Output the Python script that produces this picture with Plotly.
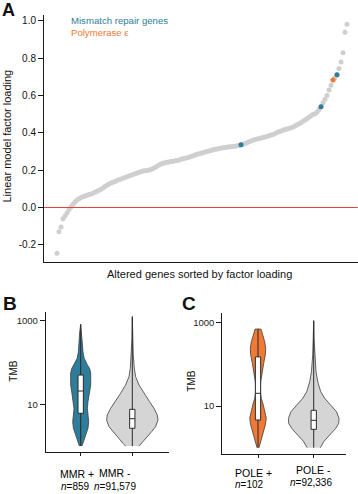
import plotly.graph_objects as go

# ---------------- DATA ----------------
# Panel A: factor loadings of altered genes, sorted
loadings = [
    -0.245, -0.13, -0.105, -0.06, -0.045, -0.03, -0.012, 0.002, 0.018, 0.03,
    0.04, 0.047, 0.053, 0.058, 0.062, 0.066, 0.07, 0.073, 0.077, 0.082,
    0.087, 0.092, 0.098, 0.105, 0.112, 0.119, 0.126, 0.131, 0.136, 0.14,
    0.145, 0.149, 0.153, 0.157, 0.161, 0.165, 0.169, 0.173, 0.177, 0.181,
    0.185, 0.189, 0.192, 0.195, 0.197, 0.199, 0.201, 0.204, 0.209, 0.215,
    0.221, 0.228, 0.233, 0.237, 0.24, 0.242, 0.244, 0.246, 0.248, 0.25,
    0.252, 0.255, 0.258, 0.261, 0.264, 0.267, 0.27, 0.273, 0.277, 0.281,
    0.285, 0.288, 0.291, 0.294, 0.297, 0.3, 0.303, 0.306, 0.309, 0.312,
    0.314, 0.316, 0.318, 0.32, 0.322, 0.323, 0.325, 0.326, 0.327, 0.329,
    0.331, 0.333, 0.336, 0.339, 0.343, 0.347, 0.352, 0.357, 0.361, 0.364,
    0.367, 0.37, 0.372, 0.375, 0.378, 0.381, 0.384, 0.388, 0.392, 0.397,
    0.402, 0.406, 0.41, 0.414, 0.418, 0.421, 0.424, 0.428, 0.432, 0.437,
    0.443, 0.449, 0.455, 0.462, 0.469, 0.476, 0.484, 0.492, 0.498, 0.503,
    0.51, 0.525, 0.54, 0.562, 0.58, 0.6, 0.63, 0.655, 0.684, 0.695,
    0.712, 0.745, 0.78, 0.83, 0.94, 0.982,
]
mmr_gene_idx = [92, 132, 140]
pole_gene_idx = [138]
legend_labels = ["Mismatch repair genes", "Polymerase ε"]

# Panels B / C: violin outlines (log10 TMB level, half width in category units)
mmr_pos_log = [0.0, 0.106, 0.226, 0.426, 0.584, 0.744, 0.90, 1.06, 1.30, 1.46, 1.75, 1.85, 1.95, 2.1, 2.25, 2.419, 2.738, 2.913]
mmr_pos_w = [0.025, 0.052, 0.091, 0.141, 0.155, 0.141, 0.130, 0.141, 0.174, 0.194, 0.194, 0.175, 0.126, 0.068, 0.045, 0.033, 0.019, 0.0]
mmr_neg_log = [0.0, 0.067, 0.187, 0.345, 0.465, 0.624, 0.744, 0.904, 1.063, 1.263, 1.462, 1.661, 1.861, 2.18, 2.579, 3.096]
mmr_neg_w = [0.13, 0.18, 0.258, 0.374, 0.452, 0.498, 0.484, 0.42, 0.335, 0.227, 0.13, 0.064, 0.039, 0.019, 0.006, 0.0]
pole_pos_log = [0.0, 0.144, 0.344, 0.544, 0.704, 0.864, 1.024, 1.184, 1.344, 1.584, 1.824, 2.025, 2.224, 2.385, 2.545, 2.705, 2.845, 2.85]
pole_pos_w = [0.018, 0.048, 0.09, 0.131, 0.149, 0.126, 0.095, 0.059, 0.041, 0.048, 0.072, 0.102, 0.131, 0.138, 0.12, 0.084, 0.054, 0.0]
pole_neg_log = [0.0, 0.144, 0.304, 0.464, 0.584, 0.704, 0.864, 1.024, 1.184, 1.344, 1.584, 1.824, 2.224, 2.625, 3.049]
pole_neg_w = [0.12, 0.18, 0.287, 0.395, 0.449, 0.454, 0.408, 0.305, 0.197, 0.126, 0.072, 0.041, 0.018, 0.006, 0.0]

# box statistics (log10 TMB): min, q1, median, q3, max
mmr_box = {"pos": [0.0, 0.785, 1.318, 1.70, 2.913], "neg": [0.0, 0.426, 0.656, 0.88, 3.096]}
pole_box = {"pos": [0.0, 0.664, 1.305, 2.18, 2.85], "neg": [0.0, 0.44, 0.657, 0.897, 3.049]}

mmr_labels = ["MMR +", "MMR -"]
mmr_n = ["859", "91,579"]
pole_labels = ["POLE +", "POLE -"]
pole_n = ["102", "92,336"]
tmb_ticks = [10, 1000]
a_ticks = [-0.2, 0.0, 0.2, 0.4, 0.6, 0.8, 1.0]

# ---------------- STYLE ----------------
W, H = 358, 494
BLUE = "#2E7D9B"
ORANGE = "#EE7A35"
GREY_PT = "#CFCFCF"
GREY_V = "#D5D5D5"
FONT = "Liberation Sans, Arial, sans-serif"


def px(x):
    return x / W


def py(y):
    return 1 - y / H


fig = go.Figure()

# ---- Panel A ----
idx = list(range(len(loadings)))
fig.add_trace(go.Scatter(x=idx, y=loadings, mode="markers",
                         marker=dict(size=5, color=GREY_PT), xaxis="x", yaxis="y",
                         showlegend=False, hoverinfo="skip"))
fig.add_trace(go.Scatter(x=mmr_gene_idx, y=[loadings[i] for i in mmr_gene_idx], mode="markers",
                         marker=dict(size=5, color=BLUE), xaxis="x", yaxis="y", showlegend=False))
fig.add_trace(go.Scatter(x=pole_gene_idx, y=[loadings[i] for i in pole_gene_idx], mode="markers",
                         marker=dict(size=5, color=ORANGE), xaxis="x", yaxis="y", showlegend=False))
fig.add_shape(type="line", xref="x domain", yref="y", x0=0, x1=1, y0=0, y1=0,
              line=dict(color="#E8413C", width=1))


def violin(xc, logs, widths, color, xa, ya):
    xs = [xc + w for w in widths] + [xc - w for w in reversed(widths)]
    ys = [10 ** l for l in logs] + [10 ** l for l in reversed(logs)]
    fig.add_trace(go.Scatter(x=xs, y=ys, mode="lines", fill="toself", fillcolor=color,
                             line=dict(color="#3C3C3C", width=0.8), xaxis=xa, yaxis=ya,
                             showlegend=False, hoverinfo="skip"))


def box(xc, stats, xa, ya, width):
    mn, q1, med, q3, mx = [10 ** s for s in stats]
    fig.add_trace(go.Box(x=[xc], q1=[q1], median=[med], q3=[q3], lowerfence=[mn], upperfence=[mx],
                         orientation="v", width=width, fillcolor="white",
                         line=dict(color="#2A2A2A", width=1),
                         whiskerwidth=0, xaxis=xa, yaxis=ya, showlegend=False, hoverinfo="skip"))


violin(0, mmr_pos_log, mmr_pos_w, BLUE, "x2", "y2")
violin(1, mmr_neg_log, mmr_neg_w, GREY_V, "x2", "y2")
box(0, mmr_box["pos"], "x4", "y4", 0.103)
box(1, mmr_box["neg"], "x4", "y4", 0.103)

violin(0, pole_pos_log, pole_pos_w, ORANGE, "x3", "y3")
violin(1, pole_neg_log, pole_neg_w, GREY_V, "x3", "y3")
box(0, pole_box["pos"], "x5", "y5", 0.095)
box(1, pole_box["neg"], "x5", "y5", 0.095)

axis_common = dict(showgrid=False, zeroline=False, showline=True, linecolor="#1A1A1A", linewidth=1,
                   tickfont=dict(family=FONT, size=10, color="#111"), ticklen=5, tickcolor="#1A1A1A")
hidden = dict(showgrid=False, zeroline=False, showline=False, showticklabels=False, ticks="")

B_X = [-0.678, 1.711]
B_Y = [-0.141, 3.215]
C_X = [-0.641, 1.585]
C_Y = [-0.152, 3.226]

fig.update_layout(
    width=W, height=H, margin=dict(l=0, r=0, t=0, b=0),
    paper_bgcolor="white", plot_bgcolor="white", boxmode="overlay",
    xaxis=dict(domain=[px(44), px(357.7)], range=[-6.5, 150.35], showticklabels=False,
               ticks="", anchor="y", **{k: v for k, v in axis_common.items() if k not in ("ticklen",)}),
    yaxis=dict(domain=[py(261.7), py(15)], range=[-0.2906, 1.032], tickvals=a_ticks,
               ticktext=[f"{v:.1f}" for v in a_ticks], ticks="outside", anchor="x", **axis_common),
    xaxis2=dict(domain=[px(45.7), px(169)], range=B_X, tickvals=[0, 1], ticktext=["", ""],
                ticks="outside", anchor="y2", **{**axis_common, "ticklen": 3}),
    yaxis2=dict(domain=[py(452), py(311.7)], type="log", range=B_Y, tickvals=tmb_ticks,
                ticktext=[str(t) for t in tmb_ticks], ticks="outside", anchor="x2",
                **{**axis_common, "tickfont": dict(family=FONT, size=9.5, color="#222")}),
    xaxis3=dict(domain=[px(222.3), px(346.3)], range=C_X, tickvals=[0, 1], ticktext=["", ""],
                ticks="outside", anchor="y3", **{**axis_common, "ticklen": 3}),
    yaxis3=dict(domain=[py(454), py(313.3)], type="log", range=C_Y, tickvals=tmb_ticks,
                ticktext=[str(t) for t in tmb_ticks], ticks="outside", anchor="x3",
                **{**axis_common, "tickfont": dict(family=FONT, size=9.5, color="#222")}),
    xaxis4=dict(overlaying="x2", range=B_X, anchor="y4", **hidden),
    yaxis4=dict(overlaying="y2", type="log", range=B_Y, anchor="x4", **hidden),
    xaxis5=dict(overlaying="x3", range=C_X, anchor="y5", **hidden),
    yaxis5=dict(overlaying="y3", type="log", range=C_Y, anchor="x5", **hidden),
)


def note(text, x, y, size, color="#111", xanchor="center", bold=False, angle=0):
    fig.add_annotation(text=f"<b>{text}</b>" if bold else text, x=px(x), y=py(y), xref="paper", yref="paper",
                       xanchor=xanchor, yanchor="middle", showarrow=False, textangle=angle,
                       font=dict(family=FONT, size=size, color=color))


note("A", 0, 10, 18, xanchor="left", bold=True)
note("B", 1, 303, 19, xanchor="left", bold=True)
note("C", 180, 303, 19, xanchor="left", bold=True)
note(legend_labels[0], 69, 20.7, 9.6, color=BLUE, xanchor="left")
note(legend_labels[1], 69, 32.7, 9.6, color=ORANGE, xanchor="left")
note("Linear model factor loading", 6, 136.5, 11, angle=-90)
note("Altered genes sorted by factor loading", 199, 274, 11)
note("TMB", 12.7, 371, 10, angle=-90)
note("TMB", 190.7, 381, 10, angle=-90)

note(mmr_labels[0], 77, 474, 10.5, color="#000")
note(f"<i>n</i>={mmr_n[0]}", 75.7, 486, 10, color="#000")
note(mmr_labels[1], 115, 473.3, 10.5, color="#000")
note(f"<i>n</i>={mmr_n[1]}", 114.5, 486, 10, color="#000")
note(pole_labels[0], 253.8, 472.5, 10.5, color="#000")
note(f"<i>n</i>={pole_n[0]}", 249.7, 484.5, 10, color="#000")
note(pole_labels[1], 313, 470, 10.5, color="#000")
note(f"<i>n</i>={pole_n[1]}", 311.3, 482.5, 10, color="#000")

fig.write_html("out.html", config={"displayModeBar": False},
               post_script="document.body.style.margin='0';document.body.style.padding='0';")
